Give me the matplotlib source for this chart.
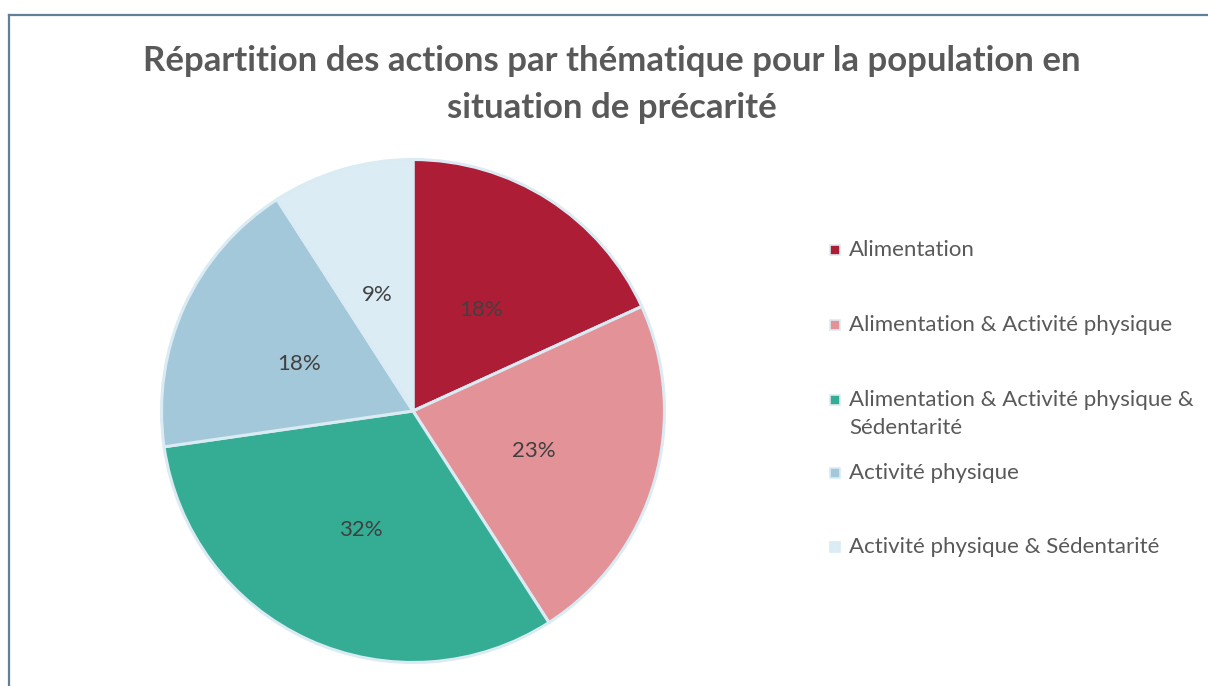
import matplotlib
matplotlib.use("Agg")
import matplotlib.pyplot as plt
from matplotlib.patches import Rectangle
from matplotlib.lines import Line2D

categories = ["Alimentation",
              "Alimentation & Activité physique",
              "Alimentation & Activité physique &\nSédentarité",
              "Activité physique",
              "Activité physique & Sédentarité"]
values = [4, 5, 7, 4, 2]
colors = ["#AD1E36", "#E39298", "#35AD94", "#A3C8DA", "#DBECF5"]
title_lines = ["Répartition des actions par thématique pour la population en",
               "situation de précarité"]

W, H = 1208, 686
plt.rcParams['font.family'] = ['Lato', 'DejaVu Sans']
fig = plt.figure(figsize=(W / 100, H / 100), dpi=100)

def fx(x):
    return x / W

def fy(y):
    return 1 - y / H

# frame
fig.add_artist(Line2D([fx(9), fx(9)], [fy(15), fy(700)], color="#5E8197", lw=1.6))
fig.add_artist(Line2D([fx(9), fx(1220)], [fy(15), fy(15)], color="#5E8197", lw=1.6))

# title
for line, y in zip(title_lines, [61, 108]):
    fig.text(fx(612), fy(y), line, ha="center", va="center", fontsize=25,
             fontweight="bold", color="#595959")

# pie
cx, cy, r = 413, 411, 254
ax = fig.add_axes([fx(cx - r), fy(cy + r), (2 * r) / W, (2 * r) / H])
wedges, texts, autotexts = ax.pie(
    values, colors=colors, startangle=90, counterclock=False,
    autopct=lambda p: f"{p:.0f}%", pctdistance=0.5,
    wedgeprops=dict(edgecolor="#DAEBF4", linewidth=2.2),
    textprops=dict(fontsize=16, color="#404040"))
for t in autotexts:
    x, y = t.get_position()
    t.set_position((x, y - 0.02))
ax.set_xlim(-1.01, 1.01)
ax.set_ylim(-1.01, 1.01)
ax.set_aspect("equal")
ax.axis("off")

# legend
leg_y = [250, 325, 400, 473, 547]
for cat, col, y in zip(categories, colors, leg_y):
    fig.add_artist(Rectangle((fx(830), fy(y + 5)), 10 / W, 10 / H,
                             transform=fig.transFigure, facecolor=col,
                             edgecolor="#DAEBF4", lw=1.2))
    for i, part in enumerate(cat.split("\n")):
        fig.text(fx(849), fy(y + 28 * i), part, ha="left", va="center",
                 fontsize=16, color="#595959")

fig.savefig("out.png", dpi=100, facecolor="white")
